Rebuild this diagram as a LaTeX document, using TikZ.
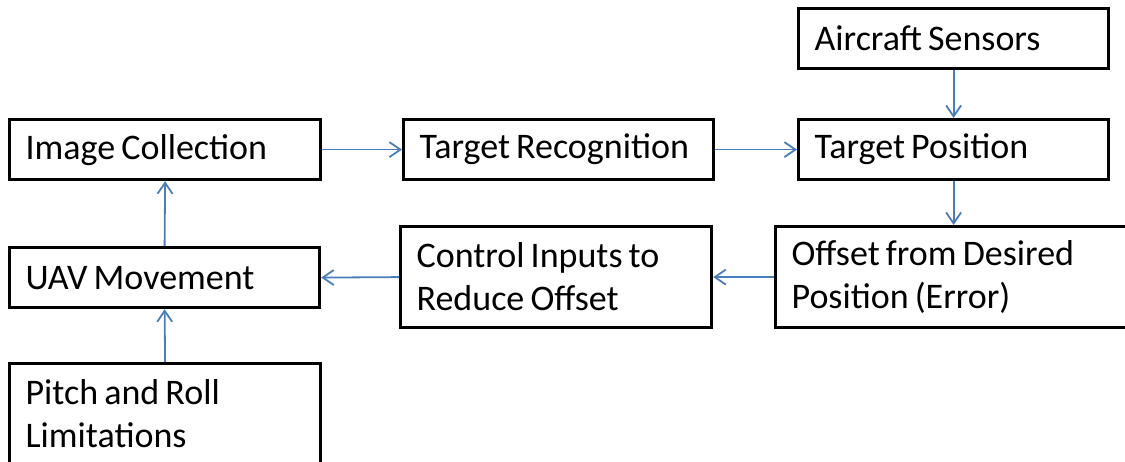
\documentclass[tikz,border=0pt]{standalone}
\usepackage{fontspec}
\setmainfont{Carlito}
\usetikzlibrary{arrows.meta}
\definecolor{linkblue}{RGB}{74,126,187}
\newcommand{\tightwords}{\spaceskip=0.17em\relax}
\tikzset{
  blockbox/.style={draw=black, line width=3.2pt, rectangle, anchor=north west,
    font=\fontsize{36}{43}\selectfont, execute at begin node=\tightwords,
    align=left, inner xsep=16pt, inner ysep=0pt},
  flow/.style={draw=linkblue, line width=1.8pt,
    -{Straight Barb[length=11pt,width=15pt,line width=1.8pt]}}
}
\newcommand{\blk}[6]{% name, left, top, right, bottom, text
  \node[blockbox, minimum width={#4-#2}, minimum height={#5-#3},
        text width={#4-#2-32}] (#1) at (#2,#3) {#6};}
\begin{document}
\begin{tikzpicture}[x=1pt, y=-1pt]
  \useasboundingbox (0,0) rectangle (1125,462);
  % processing chain
  \blk{img}{8}{118}{319}{178}{Image Collection}
  \blk{rec}{402}{118}{712}{178}{Target Recognition}
  \blk{pos}{797}{118}{1107}{178}{Target Position}
  \blk{air}{797}{7}{1107}{67}{Aircraft Sensors}
  % feedback path
  \blk{off}{774}{225}{1132}{326}{Offset from Desired\\Position (Error)}
  \blk{ctl}{399}{225}{710}{326}{Control Inputs to\\Reduce Offset}
  \blk{uav}{8}{246}{318}{306}{UAV Movement}
  \blk{pit}{8}{362}{319}{463}{Pitch and Roll\\Limitations}
  % connectors
  \draw[flow] (img.east) -- (rec.west);
  \draw[flow] (rec.east) -- (pos.west);
  \draw[flow] (air.south) -- (pos.north);
  \draw[flow] (pos.south) -- (pos.south |- off.north);
  \draw[flow] (off.west) -- (ctl.east);
  \draw[flow] (ctl.west) -- (uav.east);
  \draw[flow] (uav.north) -- (img.south);
  \draw[flow] (pit.north) -- (uav.south);
\end{tikzpicture}
\end{document}
